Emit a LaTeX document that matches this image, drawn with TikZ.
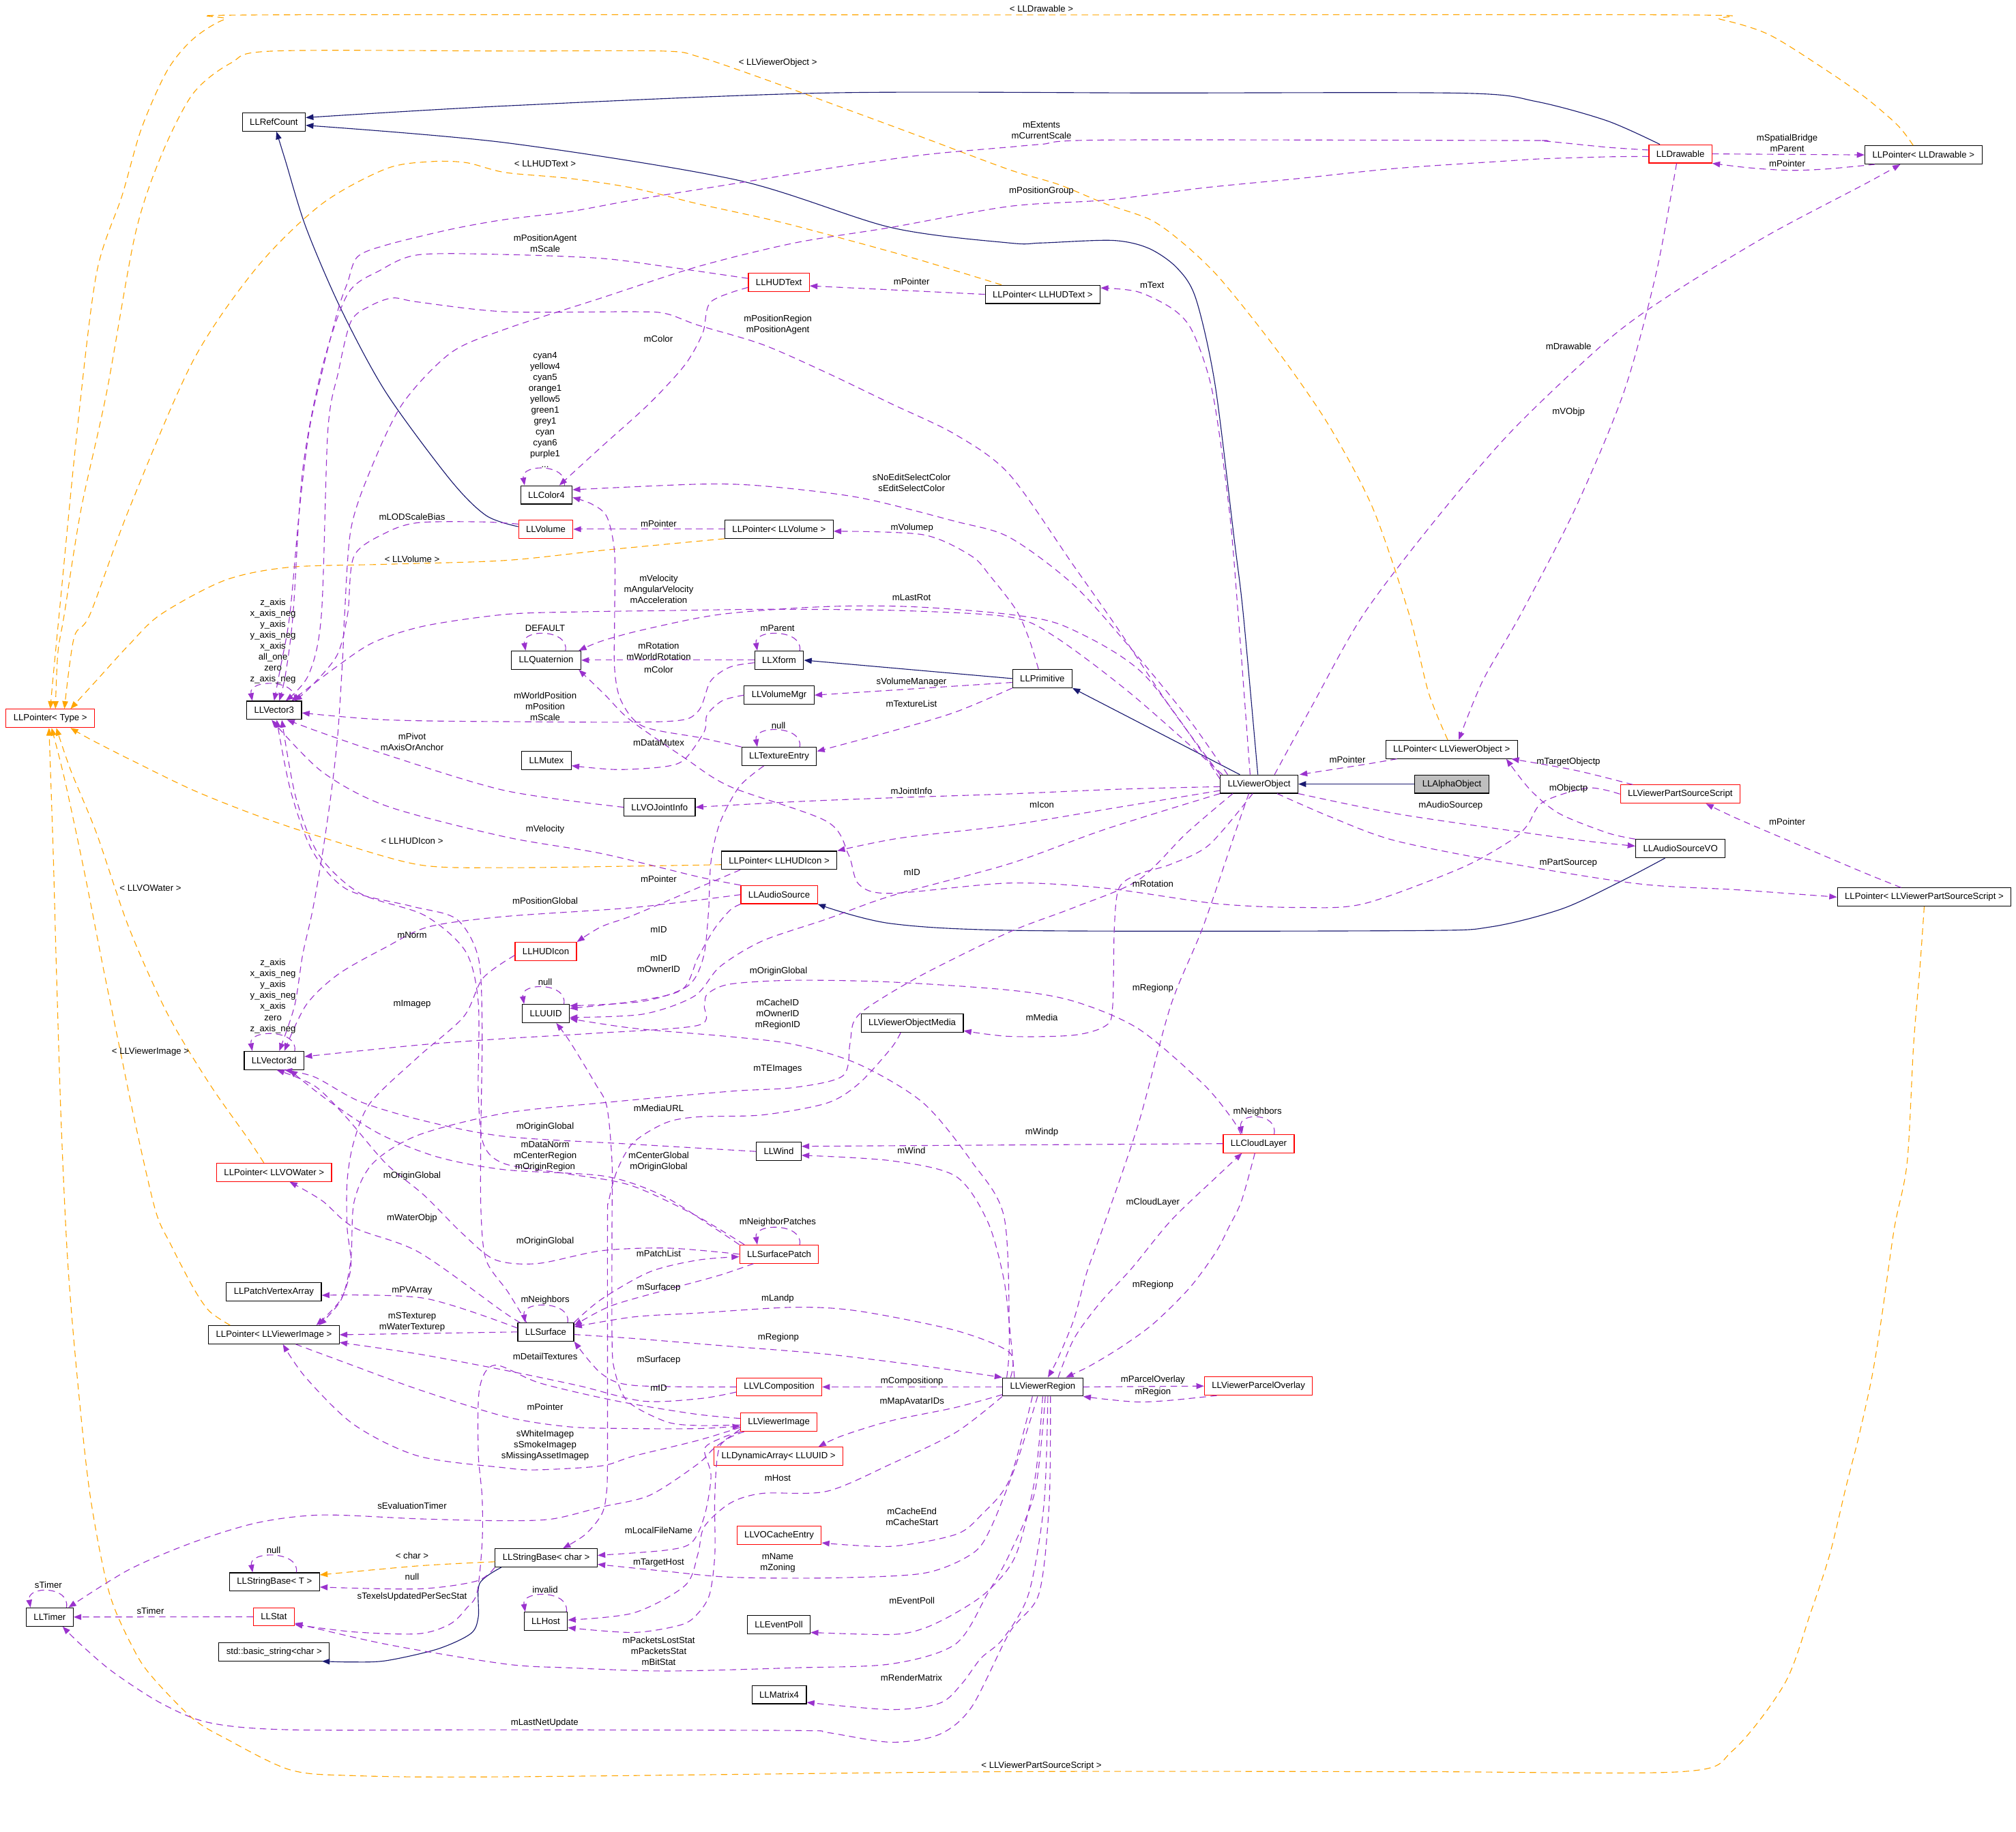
\documentclass[tikz,border=0pt]{standalone}
\usepackage{fontspec}
\setmainfont{Liberation Sans}
\usetikzlibrary{arrows.meta,calc}

\definecolor{inhblue}{HTML}{191970}
\definecolor{mempurple}{HTML}{9A32CD}
\definecolor{tplorange}{HTML}{FFA500}
\definecolor{boxgray}{HTML}{BFBFBF}

\begin{document}
\begin{tikzpicture}[x=1pt,y=-1pt,
		font=\fontsize{7}{8.5}\selectfont,
		cls/.style={draw=black,line width=0.6pt,minimum height=14.2pt,inner xsep=5.8pt,inner ysep=0pt},
		clsred/.style={cls,draw=red},
		clsgray/.style={cls,fill=boxgray},
		lbl/.style={align=center,inner sep=0pt},
		inhline/.style={inhblue,line width=0.6pt,-{Triangle[length=6pt,width=4.5pt]}},
		memline/.style={mempurple,line width=0.6pt,dash pattern=on 5pt off 3.5pt,-{Triangle[length=6pt,width=4.5pt]}},
		tplline/.style={tplorange,line width=0.6pt,dash pattern=on 5pt off 3.5pt,-{Triangle[length=6pt,width=4.5pt]}}]
		\useasboundingbox (0,0) rectangle (1568,1425);
		
		% Classes
		\node[cls] (rc) at (213,95) {LLRefCount};
		\node[clsred] (dr) at (1307,119.7) {LLDrawable};
		\node[cls] (pdr) at (1496,120.5) {LLPointer< LLDrawable >};
		\node[clsred] (hud) at (605.8,219.6) {LLHUDText};
		\node[cls] (phud) at (811,229) {LLPointer< LLHUDText >};
		\node[cls] (c4) at (425,385) {LLColor4};
		\node[clsred] (vol) at (424.5,411.7) {LLVolume};
		\node[cls] (pvol) at (605.9,411.7) {LLPointer< LLVolume >};
		\node[clsred] (ptype) at (39.1,558.9) {LLPointer< Type >};
		\node[cls] (v3) at (213.2,552.6) {LLVector3};
		\node[cls] (quat) at (424.8,513.6) {LLQuaternion};
		\node[cls] (xf) at (606,513.6) {LLXform};
		\node[cls] (prim) at (810.7,527.9) {LLPrimitive};
		\node[cls] (vmgr) at (606,540.8) {LLVolumeMgr};
		\node[cls] (mtx) at (425,591.7) {LLMutex};
		\node[cls] (tex) at (606,588.5) {LLTextureEntry};
		\node[cls] (joint) at (513,628) {LLVOJointInfo};
		\node[cls] (vo) at (979.3,610) {LLViewerObject};
		\node[cls] (pvo) at (1129,583) {LLPointer< LLViewerObject >};
		\node[clsgray] (alpha) at (1129.2,610) {LLAlphaObject};
		\node[clsred] (vpss) at (1306.8,617.8) {LLViewerPartSourceScript};
		\node[cls] (picon) at (606,669.3) {LLPointer< LLHUDIcon >};
		\node[cls] (asvo) at (1307,660.2) {LLAudioSourceVO};
		\node[clsred] (asrc) at (606,696) {LLAudioSource};
		\node[cls] (pvpss) at (1496.6,697.9) {LLPointer< LLViewerPartSourceScript >};
		\node[clsred] (icon) at (424.5,740.2) {LLHUDIcon};
		\node[cls] (uuid) at (424.6,788.5) {LLUUID};
		\node[cls] (v3d) at (213.2,825) {LLVector3d};
		\node[cls] (media) at (709.5,796) {LLViewerObjectMedia};
		\node[cls] (wind) at (605.7,895.8) {LLWind};
		\node[clsred] (cloud) at (979,889.7) {LLCloudLayer};
		\node[clsred] (pwater) at (213.2,912) {LLPointer< LLVOWater >};
		\node[clsred] (patch) at (606,975.7) {LLSurfacePatch};
		\node[cls] (pva) at (213,1005) {LLPatchVertexArray};
		\node[cls] (surf) at (424.5,1036.2) {LLSurface};
		\node[cls] (pimg) at (213,1038.4) {LLPointer< LLViewerImage >};
		\node[cls] (region) at (811,1079) {LLViewerRegion};
		\node[clsred] (parcel) at (978.8,1078.3) {LLViewerParcelOverlay};
		\node[clsred] (vlc) at (606,1079) {LLVLComposition};
		\node[clsred] (img) at (605.8,1106.5) {LLViewerImage};
		\node[clsred] (dyn) at (605.5,1133) {LLDynamicArray< LLUUID >};
		\node[clsred] (cache) at (606,1194.3) {LLVOCacheEntry};
		\node[cls] (sbc) at (424.8,1212) {LLStringBase< char >};
		\node[cls] (sbt) at (213.5,1230.7) {LLStringBase< T >};
		\node[cls] (timer) at (38.7,1258) {LLTimer};
		\node[clsred] (stat) at (213,1257.8) {LLStat};
		\node[cls] (host) at (424.5,1261.3) {LLHost};
		\node[cls] (poll) at (605.7,1264) {LLEventPoll};
		\node[cls] (bstr) at (213.2,1285) {std::basic\_string<char >};
		\node[cls] (m4) at (606,1318.4) {LLMatrix4};
		
		% Inheritance
		\draw[inhline] plot[smooth] coordinates {($(dr.north)+(-16,0)$) (1250,94) (1195,79) (1138,72.5) (900,72.3) (643,72.3) (393,82.4) ($(rc.east)+(0,-3.5)$)};
		\draw[inhline] plot[smooth] coordinates {($(vo.north)+(-1,0)$) (967,478) (960,420) (945,299) (930,232) (915,208) (893,193) (865,187) (810,189) (785,189) (693,177) (573,140) (393,111) ($(rc.east)+(0,2.5)$)};
		\draw[inhline] (prim.west) -- (xf.east);
		\draw[inhline] ($(vo.north)+(-15,0)$) -- (prim.south east);
		\draw[inhline] (alpha.west) -- (vo.east);
		\draw[inhline] plot[smooth] coordinates {($(asvo.south)+(-12,0)$) (1260,686) (1215,707) (1160,721) (1100,724) (800,724) (693,718.5) (asrc.south east)};
		\draw[inhline] plot[smooth] coordinates {($(vol.west)+(0,-2)$) (378,401) (350,373) (300,305) (265,240) (238,177) (222,125) ($(rc.south)+(2,0)$)};
		\draw[inhline] plot[smooth] coordinates {($(sbc.south west)+(5,0)$) (373,1232) (372,1258) (366,1271) (340,1283) (300,1292) (273,1293) ($(bstr.south east)+(-6,0)$)};
		
		% Templates
		\draw[tplline] plot[smooth] coordinates {($(pdr.north)+(-8,0)$) (1476,97.5) (1451,76) (1421,55) (1376,27) (1338,15) (1308,11.6) (800,11.6) (205,11.6) (175,15) (150,30.5) (130,55) (110,100) (95,152) (75,213) (60,335) (46,478) (41,530) (ptype.north)};
		\draw[tplline] plot[smooth] coordinates {($(pvo.north)+(-3,0)$) (1111,538.5) (1096,478) (1068,396) (1036,335) (1006,290) (976,250) (946,213.5) (920,189) (895,171) (860,158.6) (823,143.4) (785,132) (718,107) (668,88.5) (593,61) (543,44) (515,39.7) (400,39.7) (213,39.7) (180,48.8) (150,73) (125,122) (105,183) (83,305) (63,396.5) (50,478) (45,508) ($(ptype.north)+(4,0)$)};
		\draw[tplline] plot[smooth] coordinates {($(phud.north west)+(13,0)$) (718,203) (668,189) (605,172.3) (543,158.6) (493,146.4) (443,138.8) (393,134.2) (363,126.6) (335.5,125.7) (300.5,131.2) (250.4,158.6) (200.3,207.4) (150.2,280.6) (100.2,396.5) (70,478) (57.6,496) ($(ptype.north)+(11,0)$)};
		\draw[tplline] plot[smooth] coordinates {(pvol.south west) (470,428) (393,436) (300,439) (225,441.3) (175,451.4) (125,478) (100,502) (75,529.4) ($(ptype.north east)+(-19,0)$)};
		\draw[tplline] plot[smooth] coordinates {($(picon.west)+(0,3.4)$) (480,674) (393,675) (325.5,672.7) (250.4,651.4) (200.3,634.6) (150.2,614.7) (100.2,590.4) (70,575) ($(ptype.south east)+(-19,0)$)};
		\draw[tplline] plot[smooth] coordinates {($(pwater.north)+(-8,0)$) (192.8,885.7) (162.8,843) (130.2,788.6) (100.2,721.5) (75.1,648.3) (55.1,599.5) ($(ptype.south)+(4.7,0)$)};
		\draw[tplline] plot[smooth] coordinates {($(pimg.north)+(-34,0)$) (162.8,1020) (150.2,1001.6) (132.7,968) (121,942) (105.2,874) (92.6,813) (80.1,752) (65.1,675.8) (50.1,605.6) ($(ptype.south)+(1,0)$)};
		\draw[tplline] plot[smooth] coordinates {(pvpss.south) (1493.3,752) (1488.3,813) (1483.3,904.4) (1473.3,955.7) (1463.3,1026) (1455.8,1071.8) (1445.7,1117.6) (1435.7,1157) (1423.2,1209) (1408.2,1254.8) (1388.1,1309.7) (1348,1361.6) (1308,1378.3) (1100,1378.3) (785,1378.3) (392.6,1382.3) (275.4,1381.4) (225.4,1376.8) (175.3,1352.4) (150.2,1337.2) (120.2,1306.7) (105.2,1285.4) (85.1,1239.6) (70.1,1163.4) (60.1,1071.8) (52.6,980.3) (47.6,873.9) (43.8,752) (41.3,660.5) ($(ptype.south)+(-1,0)$)};
		\draw[tplline] plot[smooth] coordinates {($(sbc.west)+(0,3)$) (325.5,1218.2) ($(sbt.east)+(0,-5.5)$)};
		
		% Members
		\draw[memline] plot[smooth] coordinates {($(dr.west)+(0,-3)$) (1250.4,114.6) (1200.3,109.7) (1177.9,109.3) (860.4,108.9) (810.3,112.2) (785.3,114.4) (718.1,120.5) (643,131.2) (567.9,143.4) (492.8,155.6) (442.7,164.7) (392.6,170.8) (350.6,178.4) (300.5,190.6) (278,199.8) (270.4,219.6) (262.9,241) (250.4,289.8) (240.4,335.5) (232.9,396.5) (225.4,478.3) (218,520) (v3.north)};
		\draw[memline] plot[smooth] coordinates {($(dr.west)+(0,2)$) (1250.4,122) (1200.3,123.5) (1175.3,125) (1085.8,131) (1010.7,138.8) (935.5,146.2) (860.4,155.6) (785.3,160.5) (693,176.9) (618,189) (542.8,207.4) (467.7,231.8) (392.6,256.2) (350.6,274.5) (313,314.2) (288,366) (272.9,411.8) (268,478.3) (266.7,508) (262.9,569) (257.9,614.7) (250.4,666.6) (242.9,709.3) (235.4,742.8) (229.1,782.5) ($(v3d.north)+(4,0)$)};
		\draw[memline] (dr.east) -- (pdr.west);
		\draw[memline] plot[smooth] coordinates {($(pdr.south west)+(8,0)$) (1420,131.5) (1391,132.5) (1360,130.5) (dr.south east)};
		\draw[memline] plot[smooth] coordinates {($(dr.south)+(-3,0)$) (1288,213) (1263,305) (1225,396) (1183,477.5) (1153.4,529.3) ($(pvo.north)+(5.6,0)$)};
		\draw[memline] plot[smooth] coordinates {($(hud.west)+(0,-3)$) (517.8,207.4) (467.7,201) (392.6,198) (325.5,198.2) (295.5,210.4) (270.4,228.7) (250.4,286.7) (235.4,366) (227.9,478) (222,525) ($(v3.north)+(4,0)$)};
		\draw[memline] plot[smooth] coordinates {($(hud.west)+(0,4)$) (552.8,234.9) (546.6,259) (532.8,283.7) (505,314) (467.7,347.7) ($(c4.north)+(10,0)$)};
		\draw[memline] (phud.west) -- ($(hud.east)+(0,2.8)$);
		\draw[memline] plot[smooth] coordinates {($(vo.north)+(-7,0)$) (963,478) (956,396) (943,305) (928,259) (913,241) (885,227) ($(phud.east)+(0,-5)$)};
		\draw[memline] plot[smooth] coordinates {(vo.north west) (910,550) (870,490) (835,440) (785,369) (743,338) (693,314) (643,290) (593,268) (543,253) (518,244) (493,242.5) (392.6,242.5) (325.5,235) (305.5,231.8) (288,238) (273,250) (263,290) (255,335) (250,478) (240,525) ($(v3.north)+(9,0)$)};
		\draw[memline] plot[smooth] coordinates {($(vo.north west)+(6,0)$) (925,560) (880,505) (835,455) (785,418) (742.6,405.5) (667.6,387) (592.6,378) (542.6,376.7) ($(c4.east)+(0,-4)$)};
		\draw[memline] plot[smooth] coordinates {($(vo.north)+(12,0)$) (1020,550) (1060.8,477.5) (1120,400) (1177,334) (1250,265) (1300,228.7) (1375,183) (1450.7,143) ($(pdr.south)+(-18,0)$)};
		\draw[memline] plot[smooth] coordinates {($(vo.north west)+(2,0)$) (880,540) (820,495) (785,480) (700,475) (600,474) (520,475) (450,476) (392.6,478) (330,487) (290,500) (260,520) ($(v3.north east)+(-8,0)$)};
		\draw[memline] plot[smooth] coordinates {($(vo.west)+(0,-4)$) (890,525) (830,488) (785,478) (709,472) (640,472) (560,478) (500,490) (467.7,498.8) ($(quat.north east)+(-2,0)$)};
		\draw[memline] plot[smooth] coordinates {($(vo.west)+(0,2)$) (870,614) (785.3,617.6) (693,620.7) (618,623.7) (joint.east)};
		\draw[memline] plot[smooth] coordinates {($(vo.west)+(0,5)$) (870,628) (785,642) (700,652) (picon.north east)};
		\draw[memline] plot[smooth] coordinates {(vo.south west) (860,645) (785,672) (693,697) (643,715) (593,732) (560,752) (540,775) (500,789) ($(uuid.east)+(0,3)$)};
		\draw[memline] plot[smooth] coordinates {(vo.south east) (1085.8,633) (1177.9,646.6) (1232.9,654.2) ($(asvo.west)+(0,-2)$)};
		\draw[memline] plot[smooth] coordinates {($(vo.south)+(14,0)$) (1035.7,635.9) (1085.8,654.2) (1177.9,672.4) (1275.5,687.7) (1350.6,692.2) (pvpss.west)};
		\draw[memline] plot[smooth] coordinates {($(pvo.south west)+(9,0)$) (1060.8,594.8) ($(vo.north east)+(1,0)$)};
		\draw[memline] plot[smooth] coordinates {($(vpss.north west)+(10,0)$) (1225.4,599.3) ($(pvo.south east)+(-5,0)$)};
		\draw[memline] plot[smooth] coordinates {(asvo.north west) (1250.4,648) (1212.9,633) (1190.3,614.6) ($(pvo.south east)+(-9,0)$)};
		\draw[memline] plot[smooth] coordinates {($(pvpss.north)+(-18,0)$) (1450.7,679.3) (1400.6,658) (1350.6,636.6) ($(vpss.south)+(20,0)$)};
		\draw[memline] plot[smooth] coordinates {(vpss.west) (1235,613) (1200,624) (1188,642) (1175,654) (1136,675.5) (1061,703) (1011,706) (946,703) (860,691) (785,687) (693,695) (668,688) (660,665) (643,639) (568,612) (533,590) (490,560) (470,540) ($(quat.south east)+(-2,0)$)};
		\draw[memline] plot[smooth] coordinates {($(vo.south)+(-8,0)$) (960.6,648.1) (935.5,721.5) (910.5,782.5) (885.5,874) (857.9,955) (845.4,989.5) (835.4,1026) (822.9,1056.6) ($(region.north)+(4,0)$)};
		\draw[memline] plot[smooth] coordinates {($(vo.south)+(-5,0)$) (940.5,657.2) (910.5,672.4) (885.5,680) (870.4,690.7) (866.7,721.5) (865.4,782.5) (860.4,797.7) (835.4,805.3) (785.3,806.3) ($(media.east)+(0,5.9)$)};
		\draw[memline] plot[smooth] coordinates {($(vo.south west)+(10,0)$) (923,648) (885.5,684.6) (835.4,706) (785.3,725) (718,758) (676,783) (664,795) (661,812.5) (655.5,837) (618,846) (568,849) (468,858) (392.6,866) (325.5,883) (290,905) (275.4,935) (272.9,980) (265.4,1011) ($(pimg.north)+(35,0)$)};
		\draw[memline] plot[smooth] coordinates {($(cloud.north)+(-14,0)$) (958,870) (935.5,843) (885.5,800.4) (835.4,779) (785.3,770.3) (693,764) (618,762.6) (567.9,765.6) (550.3,773.2) (547.8,782.3) (542.8,797.7) (460,804) (392.6,808) (325.5,813) ($(v3d.east)+(0,-3)$)};
		\draw[memline] (cloud.west) -- ($(wind.east)+(0,-4)$);
		\draw[memline] plot[smooth] coordinates {($(region.north)+(-22,0)$) (786,1040) (780.7,995) (768,950) (743.2,915) (693,903) ($(wind.east)+(0,3)$)};
		\draw[memline] plot[smooth] coordinates {(wind.west) (492.8,890.2) (392.6,884.1) (330,872) (280,857) (245,838) ($(v3d.south)+(8,0)$)};
		\draw[memline] plot[smooth] coordinates {($(patch.north west)+(4,0)$) (540,945) (490,922) (440,913) (392.6,905.4) (376,890) (372,850) (372,780) (362,740) (330,712) (280,695) (248,665) (230,620) ($(v3.south)+(6,0)$)};
		\draw[memline] plot[smooth] coordinates {(patch.north west) (555,955) (515,930) (470,915) (392.6,910) (340,900) (295,882) (255,856) ($(v3d.south)+(12,0)$)};
		\draw[memline] plot[smooth] coordinates {(patch.west) (520,971) (468,973) (418,983) (385,980) (360,960) (330,930) (300,905) (270,870) (245,845) ($(v3d.south)+(2,0)$)};
		\draw[memline] plot[smooth] coordinates {($(surf.north west)+(2,0)$) (390.6,1020) (325.5,974) (275.4,955) (250.4,934) ($(pwater.south)+(12,0)$)};
		\draw[memline] plot[smooth] coordinates {($(surf.north)+(-15,0)$) (395,1005) (378,980) (374,940) (374,880) (375,800) (372,745) (355,715) (320,705) (270,692) (243,662) (226,615) ($(v3.south)+(2,0)$)};
		\draw[memline] plot[smooth] coordinates {(surf.north east) (467.7,1010.8) (505.3,989.5) (542.8,980.3) ($(patch.west)+(0,2)$)};
		\draw[memline] plot[smooth] coordinates {($(patch.south)+(-20,0)$) (560,992) (520,1003) (475,1016) ($(surf.east)+(0,-5)$)};
		\draw[memline] plot[smooth] coordinates {($(surf.west)+(0,-3)$) (330,1010) ($(pva.east)+(0,2.7)$)};
		\draw[memline] (surf.west) -- (pimg.east);
		\draw[memline] plot[smooth] coordinates {($(vlc.west)+(0,4)$) (545,1088) (500,1090) (450,1078) (392.6,1066) (325.5,1053.4) ($(pimg.east)+(0,6)$)};
		\draw[memline] plot[smooth] coordinates {(vlc.west) (492.8,1077.8) (467.7,1068.6) (surf.south east)};
		\draw[memline] plot[smooth] coordinates {($(surf.east)+(0,2)$) (492.8,1041.3) (567.9,1047.4) (643,1053.5) (718,1062.7) (region.north west)};
		\draw[memline] plot[smooth] coordinates {($(region.north)+(-25,0)$) (785,1052) (743,1035) (668,1020) (618,1017) (543,1021.5) (493,1024.5) ($(surf.east)+(0,-4)$)};
		\draw[memline] (region.west) -- (vlc.east);
		\draw[memline] plot[smooth] coordinates {($(region.west)+(0,6)$) (743,1095) (693,1105.3) (655,1117) ($(dyn.north)+(31,0)$)};
		\draw[memline] plot[smooth] coordinates {(region.south west) (743.2,1114.5) (693,1138.9) (643,1160.2) (592.9,1161.8) (567.9,1169.4) (547.8,1187.7) (542.8,1209) (532.8,1233.5) (492.8,1254.8) ($(host.east)+(0,-1)$)};
		\draw[memline] plot[smooth] coordinates {($(region.south)+(-8,0)$) (785.2,1151) (763.2,1178.6) (743.2,1193.8) (693,1203) ($(cache.east)+(0,6)$)};
		\draw[memline] plot[smooth] coordinates {($(region.south)+(-4,0)$) (790,1140) (770,1190) (755.7,1209) (718,1224) (643,1227.6) (567.9,1227) (517.8,1222.4) ($(sbc.east)+(0,5)$)};
		\draw[memline] plot[smooth] coordinates {(region.south) (805,1150) (790,1210) (768,1238) (743,1255) (718,1267) (693,1271.6) ($(poll.east)+(0,6)$)};
		\draw[memline] plot[smooth] coordinates {($(region.south)+(2,0)$) (805,1160) (785.2,1209) (768.2,1239.6) (743.2,1279) (693,1294.5) (617.9,1297.5) (517.8,1300) (442.7,1297.5) (392.6,1294.5) (300.5,1279.2) ($(stat.east)+(0,5)$)};
		\draw[memline] plot[smooth] coordinates {($(region.south)+(4,0)$) (812,1170) (800,1240) (780,1275) (763,1290) (748,1310) (731,1325) (693,1330) ($(m4.east)+(0,6)$)};
		\draw[memline] plot[smooth] coordinates {($(region.south)+(6,0)$) (816,1170) (808,1240) (785.2,1270) (755.7,1328) (730.6,1349.3) (693,1355.4) (643,1347.8) (618,1346.3) (392.6,1345.7) (225.4,1345.7) (162.8,1340.2) (125.2,1325) (87.6,1300.6) (62.6,1279.2) ($(timer.south)+(10,0)$)};
		\draw[memline] (region.east) -- (parcel.west);
		\draw[memline] plot[smooth] coordinates {($(parcel.south west)+(10,0)$) (910.5,1089.4) (885.5,1090.7) (860.4,1088.6) (region.south east)};
		\draw[memline] plot[smooth] coordinates {($(region.north)+(12,0)$) (835.4,1041.3) (855.4,1013.8) (880.5,986.4) (910.5,949.8) (945.6,916.1) ($(cloud.south)+(-13,0)$)};
		\draw[memline] plot[smooth] coordinates {($(cloud.south)+(-3,0)$) (965.6,934.3) (955.6,955) (945.6,974.2) (925.5,1001.6) (898,1029) (873,1047.3) (847.9,1062.5) ($(region.north)+(18,0)$)};
		\draw[memline] plot[smooth] coordinates {($(prim.north)+(-3,0)$) (800,496) (790,474) (770,448) (755.6,432.6) (718,416) ($(pvol.east)+(0,1.6)$)};
		\draw[memline] plot[smooth] coordinates {($(prim.west)+(0,3)$) (693,537) (vmgr.east)};
		\draw[memline] plot[smooth] coordinates {(prim.south west) (743,554) (693,569) ($(tex.east)+(0,-4)$)};
		\draw[memline] (xf.west) -- (quat.east);
		\draw[memline] plot[smooth] coordinates {($(xf.west)+(0,2)$) (567.6,519) (552.6,530) (542.6,553.7) (517.6,561.3) (392.6,561.4) (300,560) ($(v3.east)+(0,2)$)};
		\draw[memline] plot[smooth] coordinates {(vmgr.west) (562,545) (550,556) (547.8,569) (532.8,590.4) (517.8,596.3) (480.2,598.7) ($(mtx.east)+(0,4)$)};
		\draw[memline] plot[smooth] coordinates {(tex.north west) (545,574) (500,565) (483,545) (478,520) (478,480) (478,430) (472,402) (460,392) ($(c4.east)+(0,2)$)};
		\draw[memline] plot[smooth] coordinates {(joint.west) (392.6,615) (300,587) (250,570) ($(v3.south)+(10,0)$)};
		\draw[memline] plot[smooth] coordinates {(asrc.north west) (542.6,682) (467.7,664) (392.6,651) (300.5,627) (250,600) ($(v3.south)+(-2,0)$)};
		\draw[memline] plot[smooth] coordinates {(asrc.west) (493,706) (392.6,713) (333.5,721) (300,737) (263,758) (238,782) ($(v3d.north)+(8,0)$)};
		\draw[memline] plot[smooth] coordinates {($(picon.south west)+(15,0)$) (542.6,690.8) (492.6,712) (467.6,721) (icon.north east)};
		\draw[memline] plot[smooth] coordinates {($(icon.west)+(0,3)$) (375.6,761) (360.6,791) (325.5,822) (288,858) (275,889) (270,919) (270,955) (273,985) (265,1011) ($(pimg.north)+(33,0)$)};
		\draw[memline] plot[smooth] coordinates {($(tex.south)+(-12,0)$) (575,612) (560,640) (553,670) (551,710) (547,745) (535,767) (500,779) ($(uuid.east)+(0,-6)$)};
		\draw[memline] plot[smooth] coordinates {(asrc.south west) (567.9,708) (555.4,723) (542.8,745) (530.3,770) (492.8,779) ($(uuid.east)+(0,-4)$)};
		\draw[memline] plot[smooth] coordinates {($(img.west)+(0,2)$) (543,1109) (518,1106) (488,1090) (478,1066) (476,1041) (476,950) (476,904) (472,861) (463,843) (443,810) ($(uuid.south)+(8,0)$)};
		\draw[memline] plot[smooth] coordinates {($(region.north)+(-28,0)$) (785,1040) (781,947) (756,904) (718,858) (668,828) (618,812.6) (568,806.5) (493,800) ($(uuid.east)+(0,4)$)};
		\draw[memline] plot[smooth] coordinates {($(media.south)+(-9,0)$) (693,815.6) (668,843) (643,858.2) (592.9,867.4) (542.8,868.9) (517.8,873.5) (492.8,888.7) (480.2,910) (473.5,934.4) (472.5,955) (472.5,1132.8) (471.5,1163.3) (467.7,1178.6) (455.2,1193.8) ($(sbc.north)+(13,0)$)};
		\draw[memline] plot[smooth] coordinates {(img.south west) (563,1118) (548,1127) (553,1148) (548,1179) (538,1200) (518,1206) ($(sbc.east)+(0,-2)$)};
		\draw[memline] plot[smooth] coordinates {($(img.south west)+(3,0)$) (560,1125) (556,1163) (556,1209) (552,1240) (543,1255) (530,1264) (493,1270) ($(host.east)+(0,5)$)};
		\draw[memline] plot[smooth] coordinates {($(img.south west)+(0,-2)$) (555.4,1126.7) (542.8,1138.9) (505.3,1163.3) (467.7,1172.4) (430.2,1181.6) (392.6,1183.1) (325.5,1181.6) (250.4,1178.6) (200.3,1184.6) (150.2,1199.9) (100.2,1221.2) ($(timer.north east)+(-4,0)$)};
		\draw[memline] plot[smooth] coordinates {($(img.west)+(0,4)$) (542.8,1120.6) (492.8,1132.8) (467.7,1140.4) (417.6,1143.5) (392.6,1141.9) (325.5,1132.8) (275.4,1108.4) (237.9,1071.8) ($(pimg.south)+(7,0)$)};
		\draw[memline] plot[smooth] coordinates {($(pimg.south)+(17,0)$) (275,1062.5) (325.5,1081) (392.6,1102) (442.7,1110) (493,1111.4) (543,1111.4) ($(img.west)+(0,3)$)};
		\draw[memline] plot[smooth] coordinates {(sbc.south west) (370.6,1230) (325.5,1236.1) ($(sbt.east)+(0,4)$)};
		\draw[memline] plot[smooth] coordinates {($(img.west)+(0,-3)$) (540,1100) (480,1090) (420,1076) (385,1062) (373,1080) (372,1130) (375,1165) (375,1200) (371,1239) (363,1251) (350,1263.5) (325.5,1271) (275.4,1269.6) ($(stat.east)+(0,6)$)};
		\draw[memline] (stat.west) -- (timer.east);
		\draw[memline] plot[smooth] coordinates {($(vol.west)+(0,-4)$) (375,406) (325.5,406.6) (300.5,414.3) (275.4,432.5) (270.4,477.6) (262,510) (240,536) ($(v3.north east)+(-6,0)$)};
		\draw[memline] (pvol.west) -- (vol.east);
		
		% Self references
		\foreach \n/\a/\b in {c4/14/-17,quat/15/-16,xf/16/-17,tex/16/-17,uuid/14/-17,host/16/-16,sbt/17/-17,surf/17/-16,patch/16/-17,cloud/12/-13,timer/13/-15,v3/16/-17,v3d/16/-17}
			\draw[memline] ($(\n.north)+(\a,0)$) .. controls +(3,-17) and +(-3,-17) .. ($(\n.north)+(\b,0)$);
		
		% Labels
		\node[lbl] (lDrawableT) at (810,6.7) {< LLDrawable >};
		\node[lbl] (lViewerObjectT) at (605,48.8) {< LLViewerObject >};
		\node[lbl] (lExtents) at (810,101.5) {mExtents\\mCurrentScale};
		\node[lbl] (lHUDTextT) at (424,127.6) {< LLHUDText >};
		\node[lbl] (lPositionGroup) at (810,148.8) {mPositionGroup};
		\node[lbl] (lSpatialBridge) at (1390,111.3) {mSpatialBridge\\mParent};
		\node[lbl] (lPointerDr) at (1390,127.2) {mPointer};
		\node[lbl] (lPositionAgent) at (424,189.4) {mPositionAgent\\mScale};
		\node[lbl] (lPointerHud) at (709,219) {mPointer};
		\node[lbl] (lText) at (896,221.7) {mText};
		\node[lbl] (lPositionRegion) at (605,252.5) {mPositionRegion\\mPositionAgent};
		\node[lbl] (lColorHud) at (512,263.8) {mColor};
		\node[lbl] (lDrawable) at (1220,269.3) {mDrawable};
		\node[lbl] (lColorList) at (424,318.7) {cyan4\\yellow4\\cyan5\\orange1\\yellow5\\green1\\grey1\\cyan\\cyan6\\purple1\\...};
		\node[lbl] (lVObjp) at (1220,320.7) {mVObjp};
		\node[lbl] (lSelectColor) at (709,375.8) {sNoEditSelectColor\\sEditSelectColor};
		\node[lbl] (lLODScaleBias) at (320.5,402) {mLODScaleBias};
		\node[lbl] (lPointerVol) at (512.3,407.2) {mPointer};
		\node[lbl] (lVolumep) at (709.3,410.5) {mVolumep};
		\node[lbl] (lVolumeT) at (320.5,435) {< LLVolume >};
		\node[lbl] (lVelocityVo) at (512.3,458.3) {mVelocity\\mAngularVelocity\\mAcceleration};
		\node[lbl] (lLastRot) at (709,465) {mLastRot};
		\node[lbl] (lAxisList3) at (212.3,498.7) {z\_axis\\x\_axis\_neg\\y\_axis\\y\_axis\_neg\\x\_axis\\all\_one\\zero\\z\_axis\_neg};
		\node[lbl] (lDefault) at (424,488.8) {DEFAULT};
		\node[lbl] (lParentXf) at (604.7,488.8) {mParent};
		\node[lbl] (lRotation) at (512.3,506.8) {mRotation\\mWorldRotation};
		\node[lbl] (lColorTex) at (512.3,520.8) {mColor};
		\node[lbl] (lVolumeManager) at (708.9,530.9) {sVolumeManager};
		\node[lbl] (lTextureList) at (708.9,547.3) {mTextureList};
		\node[lbl] (lWorldPosition) at (424,549.4) {mWorldPosition\\mPosition\\mScale};
		\node[lbl] (lNullTex) at (605.5,564.3) {null};
		\node[lbl] (lDataMutex) at (512.3,578) {mDataMutex};
		\node[lbl] (lPivot) at (320.5,577.2) {mPivot\\mAxisOrAnchor};
		\node[lbl] (lJointInfo) at (708.9,615.2) {mJointInfo};
		\node[lbl] (lIcon) at (810.3,626.1) {mIcon};
		\node[lbl] (lPointerVo) at (1048,590.8) {mPointer};
		\node[lbl] (lTargetObjectp) at (1219.9,592.5) {mTargetObjectp};
		\node[lbl] (lObjectp) at (1219.9,613.2) {mObjectp};
		\node[lbl] (lAudioSourcep) at (1128.3,626.8) {mAudioSourcep};
		\node[lbl] (lVelocityAs) at (424,645.5) {mVelocity};
		\node[lbl] (lHUDIconT) at (320.5,654.2) {< LLHUDIcon >};
		\node[lbl] (lPointerPvpss) at (1390,639.5) {mPointer};
		\node[lbl] (lPartSourcep) at (1219.8,671.5) {mPartSourcep};
		\node[lbl] (lIDVo) at (709.3,678.8) {mID};
		\node[lbl] (lPointerIcon) at (512.3,684) {mPointer};
		\node[lbl] (lVOWaterT) at (117,691) {< LLVOWater >};
		\node[lbl] (lRotationPs) at (896.7,687.7) {mRotation};
		\node[lbl] (lPositionGlobal) at (424,700.8) {mPositionGlobal};
		\node[lbl] (lNorm) at (320.5,727.6) {mNorm};
		\node[lbl] (lIDTex) at (512.3,723.3) {mID};
		\node[lbl] (lAxisList3d) at (212.3,775) {z\_axis\\x\_axis\_neg\\y\_axis\\y\_axis\_neg\\x\_axis\\zero\\z\_axis\_neg};
		\node[lbl] (lImagep) at (320.5,781.2) {mImagep};
		\node[lbl] (lIDAs) at (512.3,749.7) {mID\\mOwnerID};
		\node[lbl] (lNullUuid) at (424,763.8) {null};
		\node[lbl] (lOriginCloud) at (605.5,755.6) {mOriginGlobal};
		\node[lbl] (lRegionpVo) at (896.7,769) {mRegionp};
		\node[lbl] (lCacheID) at (604.9,789) {mCacheID\\mOwnerID\\mRegionID};
		\node[lbl] (lMedia) at (810.3,791.8) {mMedia};
		\node[lbl] (lViewerImageT) at (117,818) {< LLViewerImage >};
		\node[lbl] (lTEImages) at (604.9,831.7) {mTEImages};
		\node[lbl] (lNeighborsCl) at (978,865) {mNeighbors};
		\node[lbl] (lMediaURL) at (512.3,862.2) {mMediaURL};
		\node[lbl] (lOriginWind) at (424,876.5) {mOriginGlobal};
		\node[lbl] (lWindp) at (810.3,881) {mWindp};
		\node[lbl] (lDataNorm) at (424,899.4) {mDataNorm\\mCenterRegion\\mOriginRegion};
		\node[lbl] (lCenterGlobal) at (512.3,903.6) {mCenterGlobal\\mOriginGlobal};
		\node[lbl] (lWind) at (708.9,895) {mWind};
		\node[lbl] (lOriginSurf) at (320.5,914.6) {mOriginGlobal};
		\node[lbl] (lWaterObjp) at (320.5,947.5) {mWaterObjp};
		\node[lbl] (lCloudLayer) at (896.7,935.6) {mCloudLayer};
		\node[lbl] (lNeighborPatches) at (604.9,951.1) {mNeighborPatches};
		\node[lbl] (lOriginPatch) at (424,965.6) {mOriginGlobal};
		\node[lbl] (lPatchList) at (512.3,975.1) {mPatchList};
		\node[lbl] (lRegionpCl) at (896.7,999.5) {mRegionp};
		\node[lbl] (lPVArray) at (320.5,1004) {mPVArray};
		\node[lbl] (lSurfacepPa) at (512.3,1002) {mSurfacep};
		\node[lbl] (lNeighborsSu) at (424,1011.4) {mNeighbors};
		\node[lbl] (lLandp) at (604.9,1010.2) {mLandp};
		\node[lbl] (lSTexturep) at (320.5,1028.5) {mSTexturep\\mWaterTexturep};
		\node[lbl] (lRegionpSu) at (605.4,1040.4) {mRegionp};
		\node[lbl] (lDetailTextures) at (424,1055.3) {mDetailTextures};
		\node[lbl] (lSurfacepVl) at (512.3,1058) {mSurfacep};
		\node[lbl] (lParcelOverlay) at (896.7,1073.3) {mParcelOverlay};
		\node[lbl] (lRegionPo) at (896.7,1083) {mRegion};
		\node[lbl] (lCompositionp) at (709.3,1074.5) {mCompositionp};
		\node[lbl] (lIDImg) at (512.3,1079.7) {mID};
		\node[lbl] (lPointerImg) at (424,1094.4) {mPointer};
		\node[lbl] (lMapAvatarIDs) at (709.3,1090.4) {mMapAvatarIDs};
		\node[lbl] (lStaticImages) at (424,1124.3) {sWhiteImagep\\sSmokeImagep\\sMissingAssetImagep};
		\node[lbl] (lHost) at (604.9,1150) {mHost};
		\node[lbl] (lEvaluationTimer) at (320.5,1171.6) {sEvaluationTimer};
		\node[lbl] (lCacheEnd) at (709.3,1179.8) {mCacheEnd\\mCacheStart};
		\node[lbl] (lLocalFileName) at (512.3,1190.4) {mLocalFileName};
		\node[lbl] (lCharT) at (320.5,1210.2) {< char >};
		\node[lbl] (lName) at (604.9,1216) {mName\\mZoning};
		\node[lbl] (lTargetHost) at (512.3,1216) {mTargetHost};
		\node[lbl] (lNullSbt) at (212.8,1206) {null};
		\node[lbl] (lNullSbc) at (320.5,1226.7) {null};
		\node[lbl] (lTexelsStat) at (320.5,1242.3) {sTexelsUpdatedPerSecStat};
		\node[lbl] (lTimerLoop) at (37.6,1233) {sTimer};
		\node[lbl] (lTimerStat) at (117,1253) {sTimer};
		\node[lbl] (lInvalid) at (424,1237) {invalid};
		\node[lbl] (lEventPoll) at (709.3,1245) {mEventPoll};
		\node[lbl] (lPacketsStat) at (512.3,1284.5) {mPacketsLostStat\\mPacketsStat\\mBitStat};
		\node[lbl] (lRenderMatrix) at (708.9,1305) {mRenderMatrix};
		\node[lbl] (lLastNetUpdate) at (423.6,1340.3) {mLastNetUpdate};
		\node[lbl] (lPartSourceT) at (810,1373.8) {< LLViewerPartSourceScript >};
	\end{tikzpicture}
\end{document}
